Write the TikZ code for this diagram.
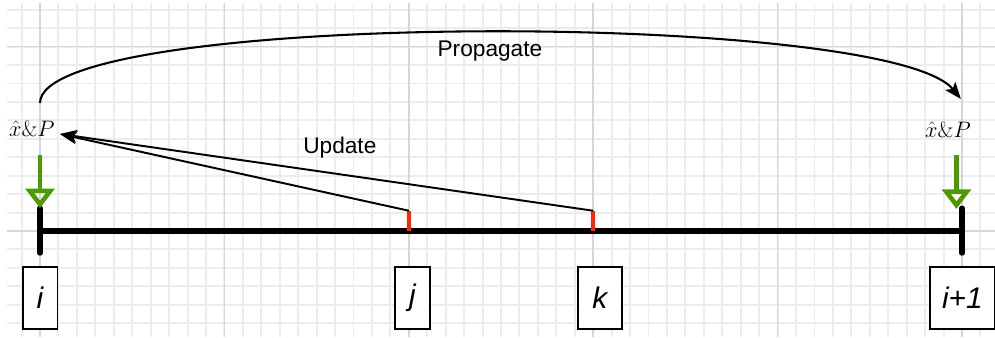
\documentclass[tikz,border=0pt]{standalone}
\usepackage{fontspec}
\setsansfont{Liberation Sans}
\usetikzlibrary{arrows.meta}
\definecolor{gridminor}{RGB}{236,236,236}
\definecolor{gridmajor}{RGB}{214,214,214}
\definecolor{measgreen}{RGB}{77,153,0}
\definecolor{tickred}{RGB}{255,38,0}

\begin{document}
\begin{tikzpicture}
    \tikzstyle{idx} = [draw, rectangle, fill=white, line width=1.3pt, minimum width=0.94cm, minimum height=1.68cm, inner sep=0pt, font=\fontsize{23}{26}\selectfont\sffamily\itshape]
    \tikzstyle{est} = [inner sep=1pt, font=\fontsize{17}{20}\selectfont]
    \tikzstyle{txt} = [font=\fontsize{17.5}{20}\selectfont\sffamily]
    \tikzstyle{la} = [-{Stealth[length=13pt, width=10pt, inset=3pt]}, line width=1.5pt]
    \tikzstyle{meas} = [-{Triangle[open, length=15pt, width=22pt]}, measgreen, line width=3.5pt]
    \useasboundingbox (-1.085,-2.874) rectangle (25.895,6.264);
    % background grid
    \draw[gridminor, line width=1.5pt, step=0.5] (-0.895,-2.874) grid (25.895,6.18);
    \draw[gridmajor, line width=1.2pt, step=5] (-0.895,-2.874) grid (25.895,6.18);
    % time axis
    \coordinate (i) at (0,0);
    \coordinate (j) at (10,0);
    \coordinate (k) at (15,0);
    \coordinate (i1) at (25,0);
    \draw[line width=5pt] (i) -- (i1);
    \draw[line width=4pt, line cap=round] (0,-0.6) -- (0,0.62) coordinate (i-top);
    \draw[line width=4pt, line cap=round] (25,-0.6) -- (25,0.62);
    \coordinate (i1-top) at (24.85,0.6);
    \draw[tickred, line width=3.5pt] (j) -- ++(0,0.55) coordinate (j-top);
    \draw[tickred, line width=3.5pt] (k) -- ++(0,0.55) coordinate (k-top);
    % index boxes
    \node[idx] (box-i) at (0,-1.82) {i};
    \node[idx] (box-j) at (10.1,-1.82) {j};
    \node[idx, minimum width=1.19cm] (box-k) at (15.18,-1.82) {k};
    \node[idx, minimum width=1.76cm] (box-i1) at (25.01,-1.82) {i+1};
    % estimates
    \node[est] (est-i) at (-0.22,2.77) {$\hat{x}\&P$};
    \node[est] (est-i1) at (24.62,2.74) {$\hat{x}\&P$};
    \coordinate (m-i) at (0,2.05);
    \coordinate (m-i1) at (24.85,2.05);
    \draw[meas] (m-i) -- (i-top);
    \draw[meas] (m-i1) -- (i1-top);
    % update from j and k
    \coordinate (upd-tip) at (0.54,2.63);
    \draw[la] (j-top) -- (upd-tip);
    \draw[la] (k-top) -- (upd-tip);
    \node[txt] (upd) at (8.13,2.25) {Update};
    % propagate i -> i+1
    \coordinate (p-a) at (0,3.47);
    \coordinate (p-b) at (24.97,3.58);
    \draw[la, line width=1.6pt] (p-a) .. controls (0,6) and (23,6) .. (p-b);
    \node[txt] (prop) at (12.2,4.88) {Propagate};
\end{tikzpicture}
\end{document}
